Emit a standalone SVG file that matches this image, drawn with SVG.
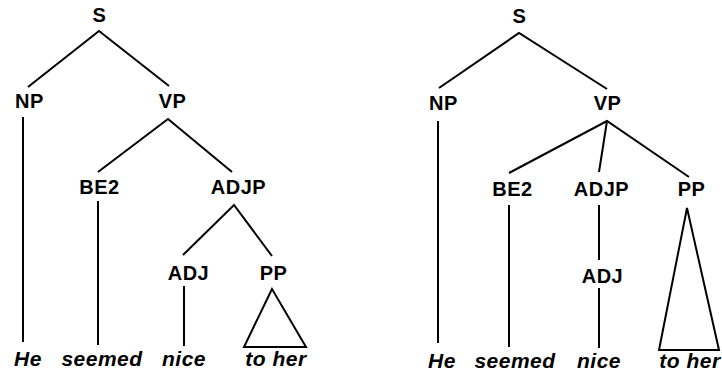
<svg xmlns="http://www.w3.org/2000/svg" width="722" height="375" viewBox="0 0 722 375">
<style>
.lbl{font-family:"Liberation Sans",Arial,sans-serif;font-weight:bold;font-size:20px;letter-spacing:0.5px;text-anchor:middle;fill:#000}
.wd{font-family:"Liberation Sans",Arial,sans-serif;font-weight:bold;font-style:italic;font-size:21px;letter-spacing:0.5px;text-anchor:middle;fill:#000}
.e{stroke:#000;stroke-width:2;fill:none;stroke-linejoin:miter}
</style>
<rect width="722" height="375" fill="#fff"/>
<g id="left-tree">
<g id="connectors-left">
<path class="e" d="M28,87 L99,31 L169,86"/>
<line class="e" x1="23" y1="117" x2="23" y2="342"/>
<path class="e" d="M98,172 L168,119 L232,172"/>
<line class="e" x1="98" y1="201" x2="98" y2="345"/>
<path class="e" d="M183,255 L234,205 L272,256"/>
<line class="e" x1="184" y1="286" x2="184" y2="346"/>
<path class="e" d="M272,289 L244,347 L306,347 Z"/>
</g>
<g id="L-S"><text class="lbl" x="99.5" y="22">S</text></g>
<g id="L-NP"><text class="lbl" x="29.5" y="108">NP</text></g>
<g id="L-VP"><text class="lbl" x="172.5" y="108">VP</text></g>
<g id="L-BE2"><text class="lbl" x="99.5" y="194">BE2</text></g>
<g id="L-ADJP"><text class="lbl" x="238.5" y="194">ADJP</text></g>
<g id="L-ADJ"><text class="lbl" x="188.5" y="280">ADJ</text></g>
<g id="L-PP"><text class="lbl" x="273.5" y="280">PP</text></g>
<g id="L-He"><text class="wd" x="28" y="366">He</text></g>
<g id="L-seemed"><text class="wd" x="102" y="366">seemed</text></g>
<g id="L-nice"><text class="wd" x="184" y="366">nice</text></g>
<g id="L-toher"><text class="wd" x="276" y="366">to her</text></g>
</g>
<g id="right-tree">
<g id="connectors-right">
<path class="e" d="M439,88 L519,33 L607,89"/>
<line class="e" x1="438" y1="121" x2="438" y2="343"/>
<path class="e" d="M509,173 L607,121 L689,177"/>
<line class="e" x1="607" y1="121" x2="599" y2="172"/>
<line class="e" x1="509" y1="205" x2="509" y2="347"/>
<line class="e" x1="599" y1="205" x2="599" y2="260"/>
<line class="e" x1="599" y1="288" x2="599" y2="348"/>
<path class="e" d="M687,208 L659,350 L719,350 Z"/>
</g>
<g id="R-S"><text class="lbl" x="519.5" y="23">S</text></g>
<g id="R-NP"><text class="lbl" x="443.5" y="110">NP</text></g>
<g id="R-VP"><text class="lbl" x="607.5" y="110">VP</text></g>
<g id="R-BE2"><text class="lbl" x="512.5" y="196">BE2</text></g>
<g id="R-ADJP"><text class="lbl" x="601.5" y="196">ADJP</text></g>
<g id="R-PP"><text class="lbl" x="691.5" y="196">PP</text></g>
<g id="R-ADJ"><text class="lbl" x="602.5" y="283">ADJ</text></g>
<g id="R-He"><text class="wd" x="442" y="368">He</text></g>
<g id="R-seemed"><text class="wd" x="515" y="368">seemed</text></g>
<g id="R-nice"><text class="wd" x="599" y="368">nice</text></g>
<g id="R-toher"><text class="wd" x="690" y="368">to her</text></g>
</g>
</svg>
